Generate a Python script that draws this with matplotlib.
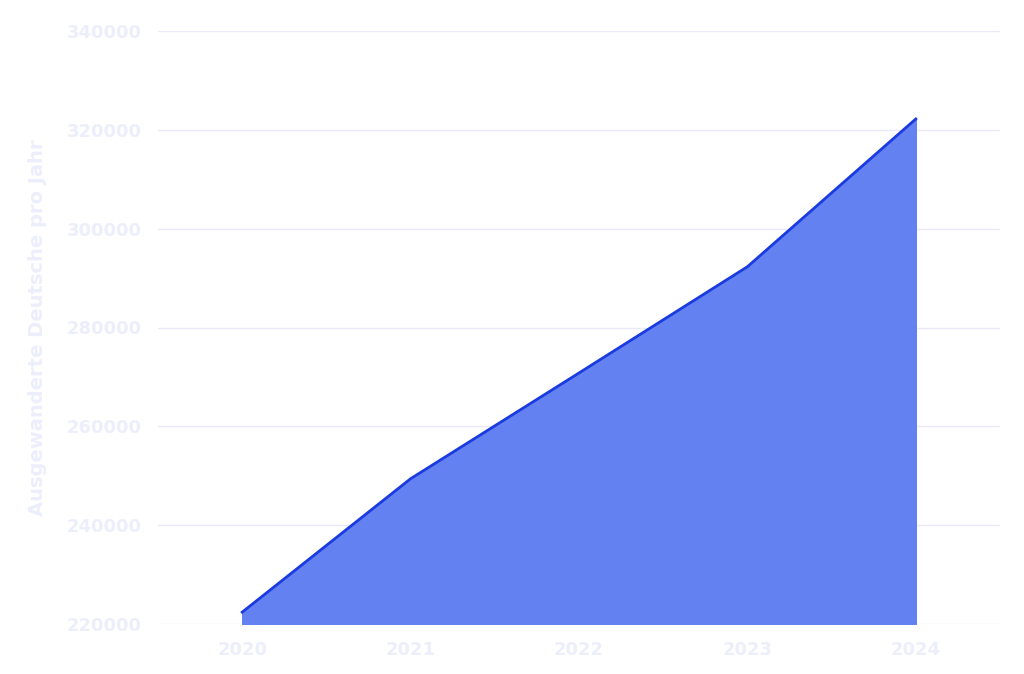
import matplotlib
matplotlib.use("Agg")
import matplotlib.pyplot as plt

years = [2020, 2021, 2022, 2023, 2024]
values = [222400, 249400, 270800, 292300, 322200]
yticks = [220000, 240000, 260000, 280000, 300000, 320000, 340000]

fig = plt.figure(figsize=(10.24, 6.74), dpi=100)
ax = fig.add_axes([158/1024, 1-624/674, (1000-158)/1024, (624-31)/674])
ax.fill_between(years, values, 220000, color="#6381f0", zorder=2)
ax.plot(years, values, color="#1a3be0", lw=2, zorder=3)
ax.set_xlim(2019.5, 2024.5)
ax.set_ylim(220000, 340000)
ax.set_yticks(yticks)
ax.set_yticklabels([str(v) for v in yticks])
ax.set_xticks(years)
ax.grid(axis="y", color="#e8eaf8", lw=1, zorder=0)
for s in ax.spines.values():
    s.set_visible(False)
ax.tick_params(length=0, labelsize=13, labelcolor="#eceffb", pad=12)
for t in ax.get_xticklabels() + ax.get_yticklabels():
    t.set_fontweight("bold")
ax.set_ylabel("Ausgewanderte Deutsche pro Jahr", fontsize=14, color="#eceffb",
              fontweight="bold", labelpad=14)
fig.savefig("out.png", dpi=100, facecolor="white")
